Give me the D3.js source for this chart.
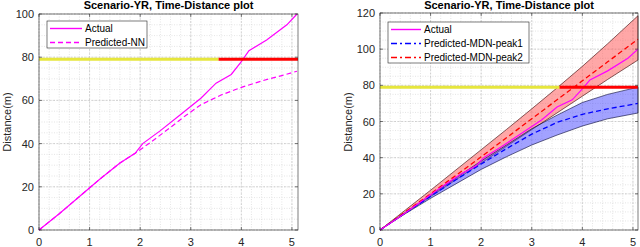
<!DOCTYPE html>
<html>
<head>
<meta charset="utf-8">
<script src="https://cdn.jsdelivr.net/npm/d3@7"></script>
<style>
  body { margin: 0; background: #fff; }
  svg { display: block; font-family: "Liberation Sans", Arial, sans-serif; }
</style>
</head>
<body>
<div class="chart-container"></div>
<script>
"use strict";

// Actual trajectory (shared by both panels)
const timeActual = [0, 0.4, 0.8, 1.2, 1.6, 1.9, 2.05, 2.4, 2.8, 3.2, 3.5, 3.8, 4.0, 4.15, 4.5, 4.9, 5.1];
const distActual = [0, 7.5, 15.5, 23.5, 31, 35.5, 40, 46, 53.5, 61, 68, 72, 78, 83, 88, 95, 100];

// NN prediction (left)
const timeNN = [0, 0.4, 0.8, 1.2, 1.6, 1.9, 2.05, 2.2, 2.6, 2.9, 3.2, 3.6, 4.0, 4.4, 4.8, 5.1];
const distNN = [0, 7.5, 15.5, 23.5, 31, 35.5, 38, 40.5, 47.5, 53, 58, 62.5, 66, 69, 71.5, 73.5];

// MDN prediction (right)
const timeMDN = [0, 0.5, 1, 1.5, 2, 2.5, 3, 3.5, 4, 4.5, 5.1];
const peak1Mean = [0, 9.4, 18.6, 27.8, 36.5, 45, 53, 59.5, 64, 67, 70];
const peak1Low = [0, 9, 17.5, 25.5, 33.5, 40.5, 47, 52.5, 57.5, 61.5, 64.7];
const peak1High = [0, 9.7, 19.3, 28.8, 38.2, 47, 56, 63.5, 70.5, 75, 79];
const peak2Mean = [0, 10, 20, 30.2, 40.5, 51, 61.5, 72, 82.5, 93, 105.5];
const peak2Low = [0, 9.25, 18.5, 27.75, 37, 46.25, 55.5, 64.75, 74, 83.25, 94];
const peak2High = [0, 11, 22, 33.2, 44.4, 55.6, 67, 78.6, 90.5, 103, 118.5];

// threshold bar
const barDist = 79;
const barSwitch = 3.55;

const xTicks = [0, 1, 2, 3, 4, 5];
const yTicksLeft = [0, 20, 40, 60, 80, 100];
const yTicksRight = [0, 20, 40, 60, 80, 100, 120];
const titleText = "Scenario-YR, Time-Distance plot";
const yLabel = "Distance(m)";

const svg = d3.select('.chart-container')
  .append('svg')
  .attr('width', 640)
  .attr('height', 247);

function makePanel(opt) {
  const x = d3.scaleLinear().domain([0, opt.xMax]).range([opt.left, opt.right]);
  const y = d3.scaleLinear().domain([0, opt.yMax]).range([230, opt.top]);
  const g = svg.append('g');

  g.append('rect')
    .attr('x', opt.left).attr('y', opt.top)
    .attr('width', opt.right - opt.left).attr('height', 230 - opt.top)
    .attr('fill', '#fff');

  // minor grid
  const minorX = d3.range(0, opt.xMax + 0.001, 0.2);
  const minorY = d3.range(0, opt.yMax + 0.001, 5);
  g.selectAll('.mgx').data(minorX).enter().append('line')
    .attr('x1', d => x(d)).attr('x2', d => x(d))
    .attr('y1', opt.top).attr('y2', 230)
    .attr('stroke', '#d4d4d4').attr('stroke-width', 0.6).attr('stroke-dasharray', '1,1.5');
  g.selectAll('.mgy').data(minorY).enter().append('line')
    .attr('x1', opt.left).attr('x2', opt.right)
    .attr('y1', d => y(d)).attr('y2', d => y(d))
    .attr('stroke', '#d4d4d4').attr('stroke-width', 0.6).attr('stroke-dasharray', '1,1.5');
  // major grid
  g.selectAll('.gx').data(xTicks).enter().append('line')
    .attr('x1', d => x(d)).attr('x2', d => x(d))
    .attr('y1', opt.top).attr('y2', 230)
    .attr('stroke', '#c4c4c4').attr('stroke-width', 0.7).attr('stroke-dasharray', '2,1.5');
  g.selectAll('.gy').data(opt.yTicks).enter().append('line')
    .attr('x1', opt.left).attr('x2', opt.right)
    .attr('y1', d => y(d)).attr('y2', d => y(d))
    .attr('stroke', '#c4c4c4').attr('stroke-width', 0.7).attr('stroke-dasharray', '2,1.5');

  return {x, y, g};
}

function line(x, y, xs, ys) {
  return d3.line().x((d, i) => x(xs[i])).y(d => y(d))(ys);
}

function band(x, y, xs, lo, hi) {
  return d3.area().x((d, i) => x(xs[i])).y0((d, i) => y(lo[i])).y1(d => y(d))(hi);
}

function finishPanel(p, opt) {
  const {x, y, g} = p;
  // box
  g.append('rect')
    .attr('x', opt.left).attr('y', opt.top)
    .attr('width', opt.right - opt.left).attr('height', 230 - opt.top)
    .attr('fill', 'none').attr('stroke', '#262626').attr('stroke-width', 0.6);

  // ticks inside
  xTicks.forEach(t => {
    g.append('line').attr('x1', x(t)).attr('x2', x(t)).attr('y1', 230).attr('y2', 227)
      .attr('stroke', '#262626').attr('stroke-width', 0.6);
    g.append('line').attr('x1', x(t)).attr('x2', x(t)).attr('y1', opt.top).attr('y2', opt.top + 3)
      .attr('stroke', '#262626').attr('stroke-width', 0.6);
  });
  opt.yTicks.forEach(t => {
    g.append('line').attr('x1', opt.left).attr('x2', opt.left + 3).attr('y1', y(t)).attr('y2', y(t))
      .attr('stroke', '#262626').attr('stroke-width', 0.6);
    g.append('line').attr('x1', opt.right).attr('x2', opt.right - 3).attr('y1', y(t)).attr('y2', y(t))
      .attr('stroke', '#262626').attr('stroke-width', 0.6);
  });

  g.selectAll('.xl').data(xTicks).enter().append('text')
    .attr('x', d => x(d)).attr('y', 246)
    .attr('text-anchor', 'middle').attr('font-size', 11).attr('fill', '#262626')
    .text(d => d);
  g.selectAll('.yl').data(opt.yTicks).enter().append('text')
    .attr('x', opt.left - 5).attr('y', d => y(d) + 4)
    .attr('text-anchor', 'end').attr('font-size', 11).attr('fill', '#262626')
    .text(d => d);

  g.append('text')
    .attr('transform', `translate(${opt.labelX}, 122) rotate(-90)`)
    .attr('text-anchor', 'middle').attr('font-size', 11).attr('fill', '#262626')
    .text(yLabel);

  g.append('text')
    .attr('x', (opt.left + opt.right) / 2).attr('y', 9)
    .attr('text-anchor', 'middle').attr('font-size', 11).attr('font-weight', 'bold')
    .attr('fill', '#000')
    .text(titleText);
}

function drawBar(p, xMax) {
  const {x, y, g} = p;
  g.append('line')
    .attr('x1', x(0)).attr('x2', x(barSwitch)).attr('y1', y(barDist)).attr('y2', y(barDist))
    .attr('stroke', '#e6e63c').attr('stroke-width', 3);
  g.append('line')
    .attr('x1', x(barSwitch)).attr('x2', x(xMax)).attr('y1', y(barDist)).attr('y2', y(barDist))
    .attr('stroke', '#ff0000').attr('stroke-width', 3);
}

function drawLegend(g, bx, by, bw, entries) {
  g.append('rect')
    .attr('x', bx).attr('y', by).attr('width', bw).attr('height', entries.length * 14 - 1)
    .attr('fill', '#fff').attr('stroke', '#262626').attr('stroke-width', 0.6);
  entries.forEach((e, i) => {
    const cy = by + 7.5 + i * 14;
    g.append('line')
      .attr('x1', bx + 3).attr('x2', bx + e.len).attr('y1', cy).attr('y2', cy)
      .attr('stroke', e.color).attr('stroke-width', 1.4)
      .attr('stroke-dasharray', e.dash || null);
    g.append('text')
      .attr('x', bx + e.len + 3).attr('y', cy + 3.5)
      .attr('font-size', 10).attr('fill', '#000')
      .text(e.label);
  });
}

// Left panel
const leftOpt = {left: 39, right: 298, top: 14, xMax: 5.12, yMax: 100, yTicks: yTicksLeft, labelX: 11};
const pL = makePanel(leftOpt);
pL.g.append('path').attr('d', line(pL.x, pL.y, timeNN, distNN))
  .attr('fill', 'none').attr('stroke', '#ff00ff').attr('stroke-width', 1.2).attr('stroke-dasharray', '5,3');
pL.g.append('path').attr('d', line(pL.x, pL.y, timeActual, distActual))
  .attr('fill', 'none').attr('stroke', '#ff00ff').attr('stroke-width', 1.2);
drawBar(pL, leftOpt.xMax);
drawLegend(pL.g, 47, 21, 100, [
  {label: 'Actual', color: '#ff00ff', len: 35},
  {label: 'Predicted-NN', color: '#ff00ff', len: 35, dash: '5,3'}
]);
finishPanel(pL, leftOpt);

// Right panel
const rightOpt = {left: 380, right: 638, top: 13, xMax: 5.1, yMax: 120, yTicks: yTicksRight, labelX: 352};
const pR = makePanel(rightOpt);
pR.g.append('path').attr('d', band(pR.x, pR.y, timeMDN, peak2Low, peak2High))
  .attr('fill', 'rgb(255,80,80)').attr('fill-opacity', 0.5)
  .attr('stroke', '#300').attr('stroke-width', 0.6);
pR.g.append('path').attr('d', band(pR.x, pR.y, timeMDN, peak1Low, peak1High))
  .attr('fill', 'rgb(70,70,255)').attr('fill-opacity', 0.5)
  .attr('stroke', '#003').attr('stroke-width', 0.6);
pR.g.append('path').attr('d', line(pR.x, pR.y, timeMDN, peak2Mean))
  .attr('fill', 'none').attr('stroke', '#ff0000').attr('stroke-width', 1.3).attr('stroke-dasharray', '5,3');
pR.g.append('path').attr('d', line(pR.x, pR.y, timeMDN, peak1Mean))
  .attr('fill', 'none').attr('stroke', '#0000ff').attr('stroke-width', 1.3).attr('stroke-dasharray', '5,3');
pR.g.append('path').attr('d', line(pR.x, pR.y, timeActual, distActual))
  .attr('fill', 'none').attr('stroke', '#ff00ff').attr('stroke-width', 1.2);
drawBar(pR, rightOpt.xMax);
drawLegend(pR.g, 388, 22, 141, [
  {label: 'Actual', color: '#ff00ff', len: 33},
  {label: 'Predicted-MDN-peak1', color: '#0000ff', len: 33, dash: '6,3,2,3'},
  {label: 'Predicted-MDN-peak2', color: '#ff0000', len: 33, dash: '6,3,2,3'}
]);
finishPanel(pR, rightOpt);
</script>
</body>
</html>
